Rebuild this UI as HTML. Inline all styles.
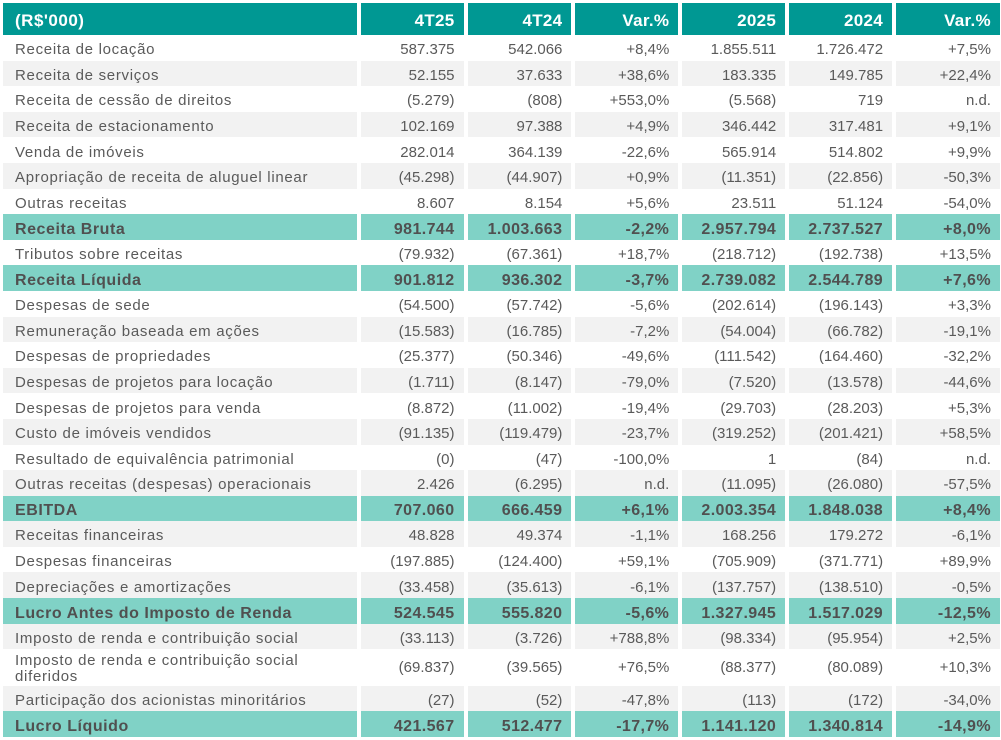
<!DOCTYPE html>
<html><head><meta charset="utf-8">
<style>
html,body{margin:0;padding:0;background:#fff;}
body{width:1001px;height:737px;overflow:hidden;position:relative;font-family:"Liberation Sans",Arial,sans-serif;}
#t{position:absolute;left:3px;top:3px;width:997px;}
.r{display:flex;gap:4px;height:25.6px;}
.r>div{box-sizing:border-box;height:100%;white-space:nowrap;}
.r>div:nth-child(1){width:354px;padding-left:12px;text-align:left;letter-spacing:0.7px;}
.r>div:nth-child(n+2){width:103px;text-align:right;padding-right:9px;}
.r>div:nth-child(3),.r>div:nth-child(7){width:104px;}
.r>div span{position:relative;display:inline-block;}
.n>div{color:#5a5a5a;font-size:15px;line-height:25.6px;}
.n>div span{top:2.2px;}
.g>div{background:#f2f2f2;}
.h>div{background:#80d2c6;color:#505050;font-weight:bold;font-size:16px;line-height:25.6px;letter-spacing:0.4px;}
.h>div:nth-child(1){letter-spacing:0.55px;}
.h>div span{top:2.8px;}
.hd{height:32px;}
.hd>div{background:#009893;color:#fff;font-weight:bold;font-size:17px;line-height:32px;letter-spacing:0.3px;}
.hd>div span{top:2px;}
.hd>div:nth-child(1){letter-spacing:0.5px;}
.tall{height:36.6px;}
.tall>div{line-height:36.6px;}
.tall>div:nth-child(1){line-height:16px;padding-top:3.3px;}
.tall>div:nth-child(1) span{top:0;}
.tall>div span{top:0.6px;}
.last{height:25.4px;}
</style></head><body>
<div id="t">
<div class="r hd"><div><span>(R$'000)</span></div><div><span>4T25</span></div><div><span>4T24</span></div><div><span>Var.%</span></div><div><span>2025</span></div><div><span>2024</span></div><div><span>Var.%</span></div></div>
<div class="r n"><div><span>Receita de locação</span></div><div><span>587.375</span></div><div><span>542.066</span></div><div><span>+8,4%</span></div><div><span>1.855.511</span></div><div><span>1.726.472</span></div><div><span>+7,5%</span></div></div>
<div class="r n g"><div><span>Receita de serviços</span></div><div><span>52.155</span></div><div><span>37.633</span></div><div><span>+38,6%</span></div><div><span>183.335</span></div><div><span>149.785</span></div><div><span>+22,4%</span></div></div>
<div class="r n"><div><span>Receita de cessão de direitos</span></div><div><span>(5.279)</span></div><div><span>(808)</span></div><div><span>+553,0%</span></div><div><span>(5.568)</span></div><div><span>719</span></div><div><span>n.d.</span></div></div>
<div class="r n g"><div><span>Receita de estacionamento</span></div><div><span>102.169</span></div><div><span>97.388</span></div><div><span>+4,9%</span></div><div><span>346.442</span></div><div><span>317.481</span></div><div><span>+9,1%</span></div></div>
<div class="r n"><div><span>Venda de imóveis</span></div><div><span>282.014</span></div><div><span>364.139</span></div><div><span>-22,6%</span></div><div><span>565.914</span></div><div><span>514.802</span></div><div><span>+9,9%</span></div></div>
<div class="r n g"><div><span>Apropriação de receita de aluguel linear</span></div><div><span>(45.298)</span></div><div><span>(44.907)</span></div><div><span>+0,9%</span></div><div><span>(11.351)</span></div><div><span>(22.856)</span></div><div><span>-50,3%</span></div></div>
<div class="r n"><div><span>Outras receitas</span></div><div><span>8.607</span></div><div><span>8.154</span></div><div><span>+5,6%</span></div><div><span>23.511</span></div><div><span>51.124</span></div><div><span>-54,0%</span></div></div>
<div class="r h"><div><span>Receita Bruta</span></div><div><span>981.744</span></div><div><span>1.003.663</span></div><div><span>-2,2%</span></div><div><span>2.957.794</span></div><div><span>2.737.527</span></div><div><span>+8,0%</span></div></div>
<div class="r n"><div><span>Tributos sobre receitas</span></div><div><span>(79.932)</span></div><div><span>(67.361)</span></div><div><span>+18,7%</span></div><div><span>(218.712)</span></div><div><span>(192.738)</span></div><div><span>+13,5%</span></div></div>
<div class="r h"><div><span>Receita Líquida</span></div><div><span>901.812</span></div><div><span>936.302</span></div><div><span>-3,7%</span></div><div><span>2.739.082</span></div><div><span>2.544.789</span></div><div><span>+7,6%</span></div></div>
<div class="r n"><div><span>Despesas de sede</span></div><div><span>(54.500)</span></div><div><span>(57.742)</span></div><div><span>-5,6%</span></div><div><span>(202.614)</span></div><div><span>(196.143)</span></div><div><span>+3,3%</span></div></div>
<div class="r n g"><div><span>Remuneração baseada em ações</span></div><div><span>(15.583)</span></div><div><span>(16.785)</span></div><div><span>-7,2%</span></div><div><span>(54.004)</span></div><div><span>(66.782)</span></div><div><span>-19,1%</span></div></div>
<div class="r n"><div><span>Despesas de propriedades</span></div><div><span>(25.377)</span></div><div><span>(50.346)</span></div><div><span>-49,6%</span></div><div><span>(111.542)</span></div><div><span>(164.460)</span></div><div><span>-32,2%</span></div></div>
<div class="r n g"><div><span>Despesas de projetos para locação</span></div><div><span>(1.711)</span></div><div><span>(8.147)</span></div><div><span>-79,0%</span></div><div><span>(7.520)</span></div><div><span>(13.578)</span></div><div><span>-44,6%</span></div></div>
<div class="r n"><div><span>Despesas de projetos para venda</span></div><div><span>(8.872)</span></div><div><span>(11.002)</span></div><div><span>-19,4%</span></div><div><span>(29.703)</span></div><div><span>(28.203)</span></div><div><span>+5,3%</span></div></div>
<div class="r n g"><div><span>Custo de imóveis vendidos</span></div><div><span>(91.135)</span></div><div><span>(119.479)</span></div><div><span>-23,7%</span></div><div><span>(319.252)</span></div><div><span>(201.421)</span></div><div><span>+58,5%</span></div></div>
<div class="r n"><div><span>Resultado de equivalência patrimonial</span></div><div><span>(0)</span></div><div><span>(47)</span></div><div><span>-100,0%</span></div><div><span>1</span></div><div><span>(84)</span></div><div><span>n.d.</span></div></div>
<div class="r n g"><div><span>Outras receitas (despesas) operacionais</span></div><div><span>2.426</span></div><div><span>(6.295)</span></div><div><span>n.d.</span></div><div><span>(11.095)</span></div><div><span>(26.080)</span></div><div><span>-57,5%</span></div></div>
<div class="r h"><div><span>EBITDA</span></div><div><span>707.060</span></div><div><span>666.459</span></div><div><span>+6,1%</span></div><div><span>2.003.354</span></div><div><span>1.848.038</span></div><div><span>+8,4%</span></div></div>
<div class="r n g"><div><span>Receitas financeiras</span></div><div><span>48.828</span></div><div><span>49.374</span></div><div><span>-1,1%</span></div><div><span>168.256</span></div><div><span>179.272</span></div><div><span>-6,1%</span></div></div>
<div class="r n"><div><span>Despesas financeiras</span></div><div><span>(197.885)</span></div><div><span>(124.400)</span></div><div><span>+59,1%</span></div><div><span>(705.909)</span></div><div><span>(371.771)</span></div><div><span>+89,9%</span></div></div>
<div class="r n g"><div><span>Depreciações e amortizações</span></div><div><span>(33.458)</span></div><div><span>(35.613)</span></div><div><span>-6,1%</span></div><div><span>(137.757)</span></div><div><span>(138.510)</span></div><div><span>-0,5%</span></div></div>
<div class="r h"><div><span>Lucro Antes do Imposto de Renda</span></div><div><span>524.545</span></div><div><span>555.820</span></div><div><span>-5,6%</span></div><div><span>1.327.945</span></div><div><span>1.517.029</span></div><div><span>-12,5%</span></div></div>
<div class="r n g"><div><span>Imposto de renda e contribuição social</span></div><div><span>(33.113)</span></div><div><span>(3.726)</span></div><div><span>+788,8%</span></div><div><span>(98.334)</span></div><div><span>(95.954)</span></div><div><span>+2,5%</span></div></div>
<div class="r n tall"><div><span>Imposto de renda e contribuição social<br>diferidos</span></div><div><span>(69.837)</span></div><div><span>(39.565)</span></div><div><span>+76,5%</span></div><div><span>(88.377)</span></div><div><span>(80.089)</span></div><div><span>+10,3%</span></div></div>
<div class="r n g"><div><span>Participação dos acionistas minoritários</span></div><div><span>(27)</span></div><div><span>(52)</span></div><div><span>-47,8%</span></div><div><span>(113)</span></div><div><span>(172)</span></div><div><span>-34,0%</span></div></div>
<div class="r h last"><div><span>Lucro Líquido</span></div><div><span>421.567</span></div><div><span>512.477</span></div><div><span>-17,7%</span></div><div><span>1.141.120</span></div><div><span>1.340.814</span></div><div><span>-14,9%</span></div></div>
</div>
</body></html>
